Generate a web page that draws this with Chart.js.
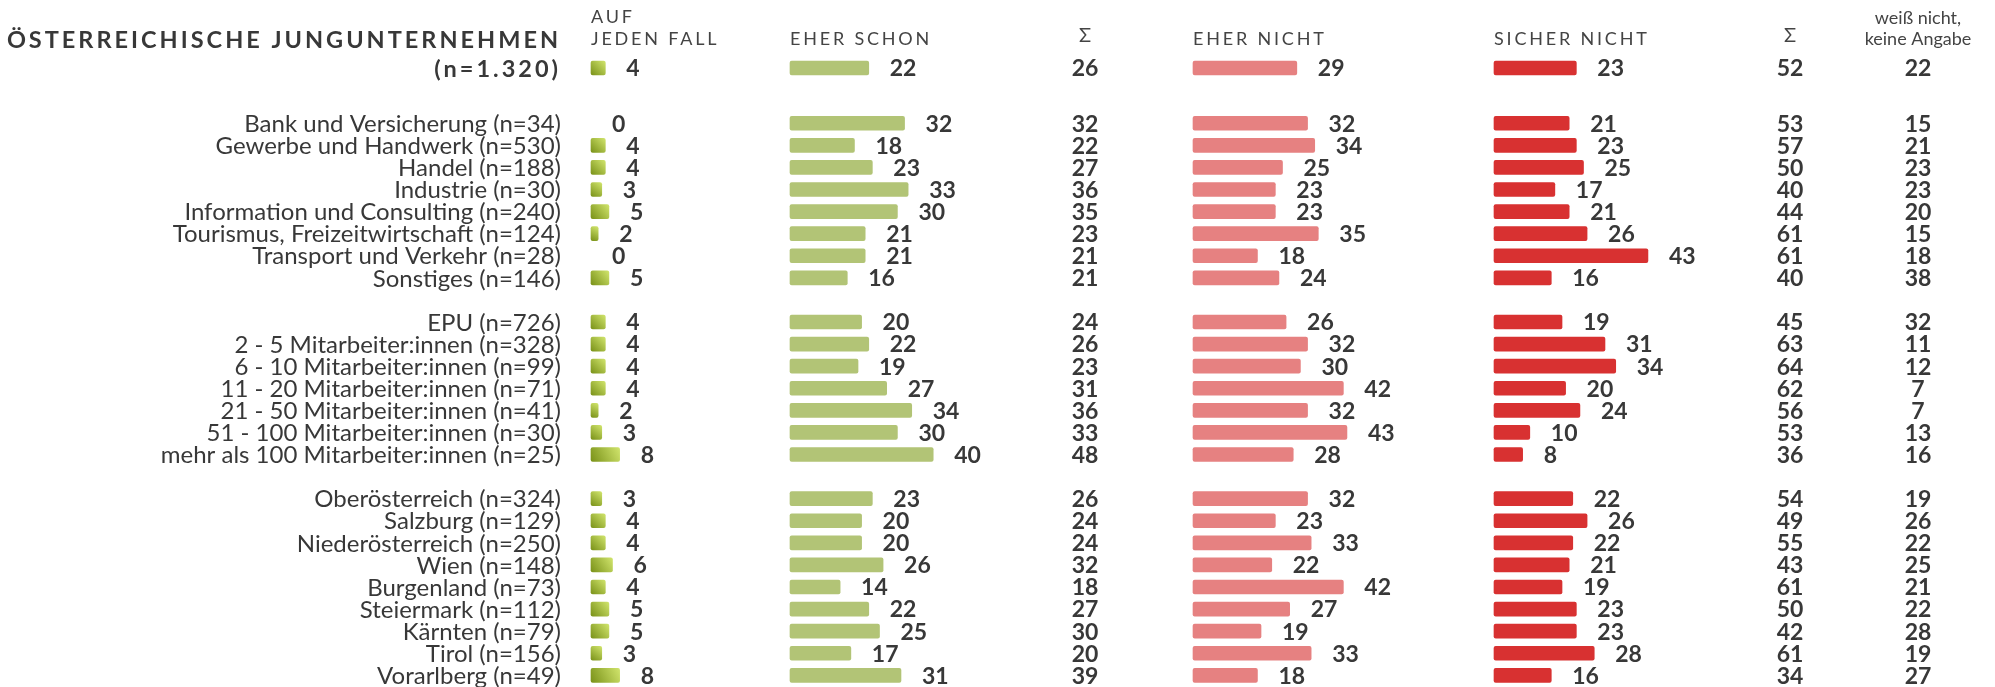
<!DOCTYPE html>
<html lang="de">
<head>
<meta charset="utf-8">
<title>Österreichische Jungunternehmen</title>
<script src="https://cdn.jsdelivr.net/npm/chart.js@4"></script>
<style>
  html, body { margin: 0; padding: 0; background: #fff; }
  #wrap { width: 1995px; height: 687px; position: relative; }
</style>
</head>
<body>
<div id="wrap"><canvas id="grafik"></canvas></div>
<script>
// Zeilen
const gesamtLabel = "(n=1.320)";
const branchen = [
  "Bank und Versicherung (n=34)", "Gewerbe und Handwerk (n=530)", "Handel (n=188)",
  "Industrie (n=30)", "Information und Consulting (n=240)",
  "Tourismus, Freizeitwirtschaft (n=124)", "Transport und Verkehr (n=28)", "Sonstiges (n=146)"
];
const groessen = [
  "EPU (n=726)", "2 - 5 Mitarbeiter:innen (n=328)", "6 - 10 Mitarbeiter:innen (n=99)",
  "11 - 20 Mitarbeiter:innen (n=71)", "21 - 50 Mitarbeiter:innen (n=41)",
  "51 - 100 Mitarbeiter:innen (n=30)", "mehr als 100 Mitarbeiter:innen (n=25)"
];
const regionen = [
  "Oberösterreich (n=324)", "Salzburg (n=129)", "Niederösterreich (n=250)", "Wien (n=148)",
  "Burgenland (n=73)", "Steiermark (n=112)", "Kärnten (n=79)", "Tirol (n=156)", "Vorarlberg (n=49)"
];

// Werte in % (Gesamt, Branchen, Größe, Bundesland)
const aufJedenFall = [4, 0, 4, 4, 3, 5, 2, 0, 5, 4, 4, 4, 4, 2, 3, 8, 3, 4, 4, 6, 4, 5, 5, 3, 8];
const eherSchon    = [22, 32, 18, 23, 33, 30, 21, 21, 16, 20, 22, 19, 27, 34, 30, 40, 23, 20, 20, 26, 14, 22, 25, 17, 31];
const summeJa      = [26, 32, 22, 27, 36, 35, 23, 21, 21, 24, 26, 23, 31, 36, 33, 48, 26, 24, 24, 32, 18, 27, 30, 20, 39];
const eherNicht    = [29, 32, 34, 25, 23, 23, 35, 18, 24, 26, 32, 30, 42, 32, 43, 28, 32, 23, 33, 22, 42, 27, 19, 33, 18];
const sicherNicht  = [23, 21, 23, 25, 17, 21, 26, 43, 16, 19, 31, 34, 20, 24, 10, 8, 22, 26, 22, 21, 19, 23, 23, 28, 16];
const summeNein    = [52, 53, 57, 50, 40, 44, 61, 61, 40, 45, 63, 64, 62, 56, 53, 36, 54, 49, 55, 43, 61, 50, 42, 61, 34];
const weissNicht   = [22, 15, 21, 23, 23, 20, 15, 18, 38, 32, 11, 12, 7, 7, 13, 16, 19, 26, 22, 25, 21, 22, 28, 19, 27];

// Zeilenpositionen: Gesamt oben, dann Gruppen mit Abstand
const labels = [gesamtLabel];
const zeilen = [0];
let pos = 2.5;
[branchen, groessen, regionen].forEach(gruppe => {
  gruppe.forEach(l => { labels.push(l); zeilen.push(pos); pos++; });
  pos += 1;
});

const PX_PRO_PROZENT = 3.58;
const BREITE = 1995;
function spalte(startPx) {
  const min = -startPx / PX_PRO_PROZENT;
  return { type: "linear", display: false, min: min, max: min + BREITE / PX_PRO_PROZENT };
}

const schrift = "Lato";
const textFarbe = "#383838";
const LABEL_RECHTS = 561;

function verlauf(ctx) {
  const chart = ctx.chart;
  const fallback = "#9db33a";
  if (ctx.type !== "data") return fallback;
  const wert = aufJedenFall[ctx.dataIndex];
  if (!wert) return "rgba(0,0,0,0)";
  if (!chart.scales.x1 || !chart.scales.y) return fallback;
  const xs = chart.scales.x1, ys = chart.scales.y;
  const x0 = xs.getPixelForValue(0);
  const x1 = xs.getPixelForValue(wert);
  const y = ys.getPixelForValue(zeilen[ctx.dataIndex]);
  if (![x0, x1, y].every(Number.isFinite)) return fallback;
  const g = chart.ctx.createLinearGradient(x0, y + 7, Math.max(x1, x0 + 6), y - 7);
  g.addColorStop(0, "#7a9219");
  g.addColorStop(1, "#d0e46c");
  return g;
}

const datensatz = (werte, achse, farbe) => ({
  data: werte.map((v, i) => ({ x: v, y: zeilen[i] })),
  xAxisID: achse,
  backgroundColor: farbe,
  barThickness: 14,
  borderRadius: 2,
  borderSkipped: false,
  grouped: false
});

const textePlugin = {
  id: "texte",
  afterDatasetsDraw(chart) {
    const ctx = chart.ctx;
    const ys = chart.scales.y;
    ctx.save();
    ctx.fillStyle = textFarbe;

    // Zeilenbeschriftungen
    ctx.font = "24px " + schrift;
    ctx.textAlign = "right";
    ctx.textBaseline = "middle";
    zeilen.forEach((p, j) => {
      if (j > 0) ctx.fillText(labels[j], LABEL_RECHTS, ys.getPixelForValue(p) + 1);
    });

    // Werte hinter den Balken
    ctx.font = "bold 23px " + schrift;
    ctx.textAlign = "left";
    chart.data.datasets.forEach((ds, i) => {
      chart.getDatasetMeta(i).data.forEach((bar, j) => {
        ctx.fillText(ds.data[j].x, bar.x + 21, bar.y + 1);
      });
    });

    // Summen und weiß nicht
    ctx.textAlign = "center";
    zeilen.forEach((p, j) => {
      const y = ys.getPixelForValue(p) + 1;
      ctx.fillText(summeJa[j], 1085, y);
      ctx.fillText(summeNein[j], 1790, y);
      ctx.fillText(weissNicht[j], 1918, y);
    });

    // Titel
    ctx.textAlign = "right";
    ctx.textBaseline = "alphabetic";
    ctx.font = "bold 23.5px " + schrift;
    ctx.letterSpacing = "3px";
    ctx.fillText("ÖSTERREICHISCHE JUNGUNTERNEHMEN", LABEL_RECHTS, 48);
    ctx.textBaseline = "middle";
    ctx.fillText(gesamtLabel, LABEL_RECHTS, ys.getPixelForValue(0) + 1);

    // Spaltenköpfe
    ctx.textBaseline = "alphabetic";
    ctx.textAlign = "left";
    ctx.font = "18px " + schrift;
    ctx.letterSpacing = "2.8px";
    ctx.fillStyle = "#444";
    const x1 = chart.scales.x1.getPixelForValue(0);
    ctx.fillText("AUF", x1, 23);
    ctx.fillText("JEDEN FALL", x1, 45);
    ctx.fillText("EHER SCHON", chart.scales.x2.getPixelForValue(0), 45);
    ctx.fillText("EHER NICHT", chart.scales.x3.getPixelForValue(0), 45);
    ctx.fillText("SICHER NICHT", chart.scales.x4.getPixelForValue(0), 45);
    ctx.letterSpacing = "0px";
    ctx.textAlign = "center";
    ctx.font = "20px " + schrift;
    ctx.fillText("Σ", 1085, 42);
    ctx.fillText("Σ", 1790, 42);
    ctx.font = "18px " + schrift;
    ctx.fillText("weiß nicht,", 1918, 24);
    ctx.fillText("keine Angabe", 1918, 45);
    ctx.restore();
  }
};

new Chart(document.getElementById("grafik"), {
  type: "bar",
  data: {
    datasets: [
      datensatz(aufJedenFall, "x1", verlauf),
      datensatz(eherSchon, "x2", "#b2c476"),
      datensatz(eherNicht, "x3", "#e68181"),
      datensatz(sicherNicht, "x4", "#d83131")
    ]
  },
  options: {
    indexAxis: "y",
    responsive: true,
    maintainAspectRatio: false,
    animation: false,
    layout: { padding: 0 },
    plugins: { legend: { display: false }, tooltip: { enabled: false } },
    scales: {
      y: { type: "linear", display: false, offset: false, reverse: true, min: -3.08, max: 28.03 },
      x1: spalte(591),
      x2: spalte(790),
      x3: spalte(1193),
      x4: spalte(1494)
    }
  },
  plugins: [textePlugin]
});
</script>
</body>
</html>
